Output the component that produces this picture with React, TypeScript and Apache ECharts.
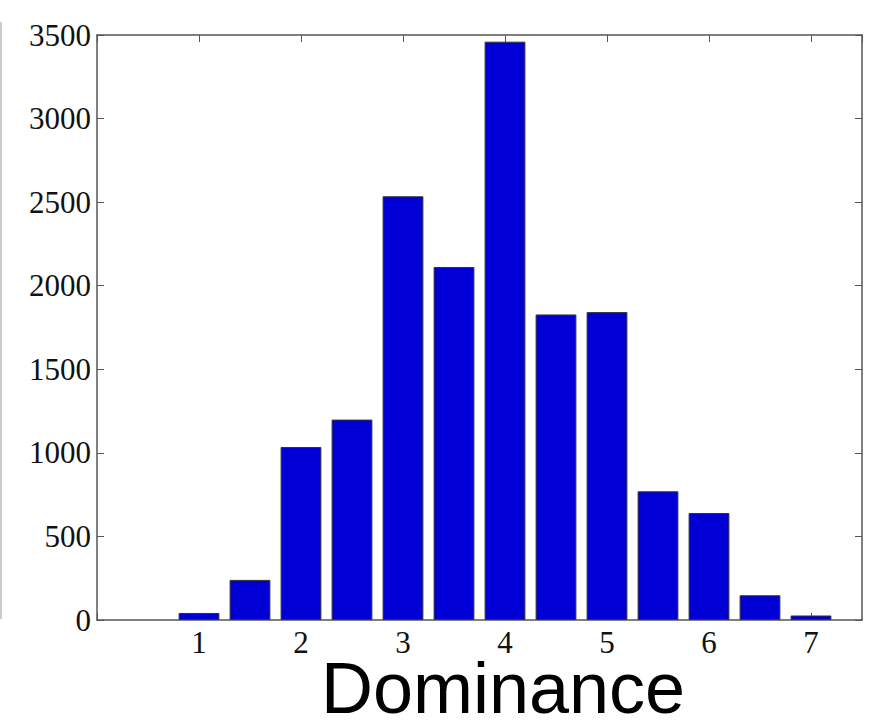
import React, { useEffect, useRef } from "react";
import * as echarts from "echarts";

// Bin centres along the dominance scale and the count in each bin
const binCenters = [1, 1.5, 2, 2.5, 3, 3.5, 4, 4.5, 5, 5.5, 6, 6.5, 7];
const counts = [42, 240, 1035, 1199, 2535, 2112, 3460, 1828, 1842, 770, 640, 148, 27];

const yTickStep = 500;
const yMax = 3500;
const xMin = 0;
const xMax = 7.5;
const xTickStep = 1;

const AXIS_COLOR = "#555555";
const SERIF = "'Liberation Serif', 'Times New Roman', serif";

export default function App() {
  const ref = useRef<HTMLDivElement>(null);

  useEffect(() => {
    if (!ref.current) return;
    const chart = echarts.init(ref.current, undefined, { renderer: "svg" });

    const tickInside = { show: true, inside: true, length: 7, lineStyle: { color: AXIS_COLOR, width: 1 } };
    const axisLine = { show: true, onZero: false, lineStyle: { color: AXIS_COLOR, width: 1.5 } };

    const baseX = {
      type: "value" as const,
      min: xMin,
      max: xMax,
      interval: xTickStep,
      splitLine: { show: false },
      axisLine,
      axisTick: tickInside,
    };
    const baseY = {
      type: "value" as const,
      min: 0,
      max: yMax,
      interval: yTickStep,
      splitLine: { show: false },
      axisLine,
      axisTick: tickInside,
    };

    chart.setOption({
      animation: false,
      backgroundColor: "#ffffff",
      grid: { left: 97, right: 10, top: 35, bottom: 103, containLabel: false },
      xAxis: [
        {
          ...baseX,
          position: "bottom",
          axisLabel: {
            show: true,
            margin: 7,
            fontFamily: SERIF,
            fontSize: 31,
            color: "#111111",
            showMaxLabel: false,
            formatter: (v: number) => (v === 0 || v > 7 ? "" : String(v)),
          },
        },
        { ...baseX, position: "top", axisLabel: { show: false } },
      ],
      yAxis: [
        {
          ...baseY,
          position: "left",
          axisLabel: {
            show: true,
            margin: 6,
            fontFamily: SERIF,
            fontSize: 31,
            color: "#111111",
            formatter: (v: number) => String(v),
          },
        },
        { ...baseY, position: "right", axisLabel: { show: false } },
      ],
      series: [
        {
          type: "bar",
          xAxisIndex: 0,
          yAxisIndex: 0,
          barWidth: "80%",
          data: binCenters.map((c, i) => [c, counts[i]]),
          itemStyle: { color: "#0000d6", borderColor: "#333333", borderWidth: 1 },
        },
      ],
      graphic: [
        {
          type: "line",
          shape: { x1: 1, y1: 22, x2: 1, y2: 619 },
          style: { stroke: "#b8b8b8", lineWidth: 1.5 },
        },
        {
          type: "text",
          x: 503,
          y: 688,
          style: {
            text: "Dominance",
            fontFamily: "'Liberation Sans', Arial, sans-serif",
            fontSize: 72,
            lineHeight: 56,
            fill: "#000000",
            textAlign: "center",
            textVerticalAlign: "middle",
          },
        },
      ],
    });

    return () => chart.dispose();
  }, []);

  return <div ref={ref} style={{ width: 872, height: 723, position: "absolute", left: 0, top: 0 }} />;
}
